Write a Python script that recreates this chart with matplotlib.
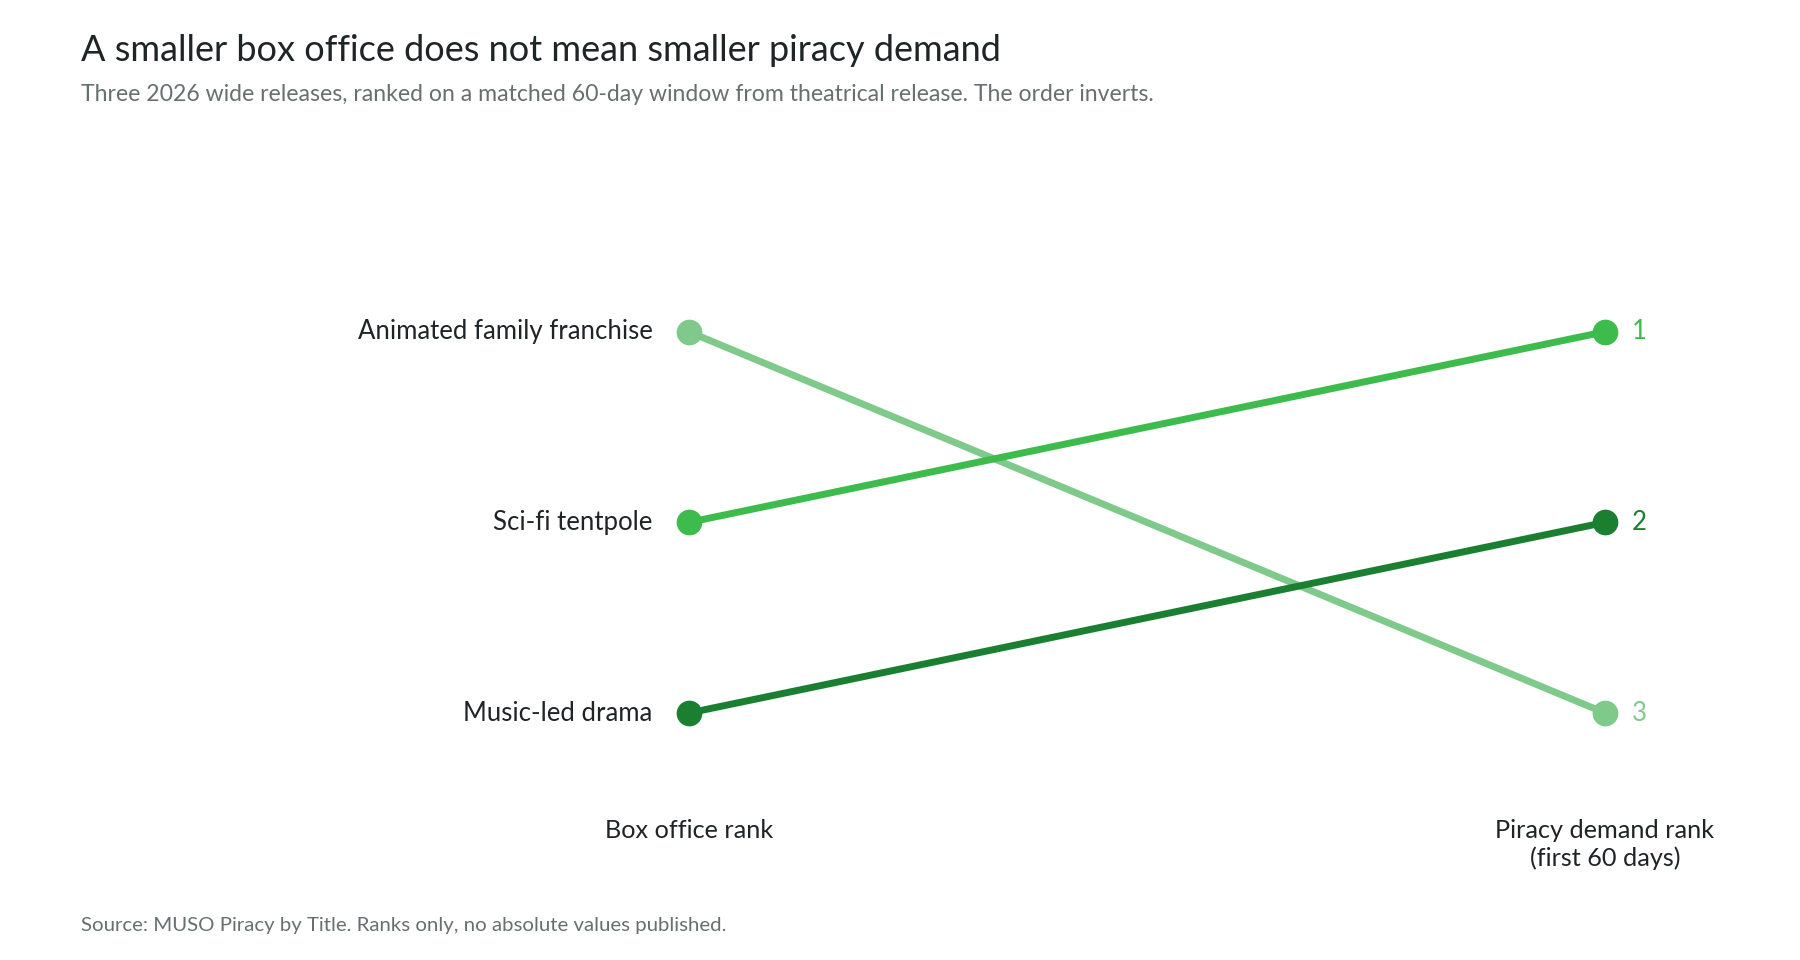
import matplotlib
matplotlib.use("Agg")
import matplotlib.pyplot as plt
from matplotlib.transforms import blended_transform_factory

plt.rcParams['font.family'] = ['Lato', 'DejaVu Sans']

# data
titles = ['Animated family franchise', 'Sci-fi tentpole', 'Music-led drama']
box_office_rank = [1, 2, 3]
piracy_rank = [3, 1, 2]
line_colors = ['#7fc98b', '#3dbc4d', '#1b7f32']
column_labels = ['Box office rank', 'Piracy demand rank\n(first 60 days)']

text_dark = '#1f2426'
text_grey = '#676f70'

fig = plt.figure(figsize=(18, 9.6), dpi=100)
fig.patch.set_facecolor('white')

# axes placed so column 0 / column 1 land where the reference has them
ax = fig.add_axes([0.3318, 0.158, 0.6108, 0.5957])
ax.set_xlim(-0.1, 1.1)
ax.set_ylim(3.5, 0.5)
ax.axis('off')

for name, r0, r1, c in zip(titles, box_office_rank, piracy_rank, line_colors):
    ax.plot([0, 1], [r0, r1], color=c, lw=5, solid_capstyle='round',
            marker='o', markersize=17.5, clip_on=False, zorder=3)
    ax.annotate(name, xy=(0, r0), xytext=(-26, 0), textcoords='offset points',
                ha='right', va='center', fontsize=18.5, color=text_dark)
    ax.annotate(str(r1), xy=(1, r1), xytext=(19, 0), textcoords='offset points',
                ha='left', va='center', fontsize=18.5, color=c)

# column labels under each side
trans = blended_transform_factory(ax.transData, fig.transFigure)
for i, lab in enumerate(column_labels):
    ax.text(i, 1 - 819 / 960, lab, transform=trans, ha='center', va='top',
            fontsize=18.2, color=text_dark, linespacing=1.25)

fig.text(81 / 1800, 1 - 61 / 960,
         'A smaller box office does not mean smaller piracy demand',
         fontsize=26, color=text_dark, va='baseline', ha='left')
fig.text(81 / 1800, 1 - 101 / 960,
         'Three 2026 wide releases, ranked on a matched 60-day window from theatrical release. The order inverts.',
         fontsize=16.6, color=text_grey, va='baseline', ha='left')
fig.text(81 / 1800, 1 - 931 / 960,
         'Source: MUSO Piracy by Title. Ranks only, no absolute values published.',
         fontsize=14.7, color=text_grey, va='baseline', ha='left')

fig.savefig('out.png', dpi=100, facecolor='white')
